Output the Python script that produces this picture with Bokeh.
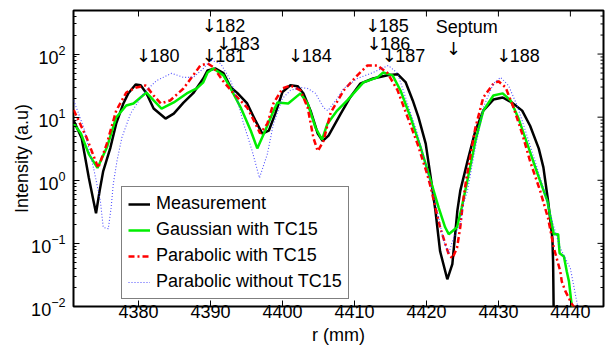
from bokeh.plotting import figure
from bokeh.models import FixedTicker, Legend, LegendItem, ColumnDataSource, Range1d, Title
from bokeh.embed import file_html
from bokeh.resources import INLINE
from bokeh.core.properties import value

# ---------------- data ----------------
meas_r = [4371.0, 4372.1, 4373.1, 4373.75, 4374.1, 4374.6, 4375.1, 4376.1, 4376.9, 4377.9,
          4378.6, 4379.6, 4380.3, 4381.1, 4382.1, 4383.75, 4384.9, 4386.25, 4387.6, 4389.0,
          4389.6, 4390.7, 4391.8, 4392.8, 4393.75, 4395.1, 4396.25, 4397.2, 4398.1, 4399.0,
          4400.0, 4401.1, 4402.1, 4402.9, 4403.9, 4404.9, 4405.6, 4406.4, 4408.1, 4409.4,
          4410.8, 4412.6, 4414.6, 4416.0, 4417.1, 4418.1, 4418.9, 4419.9, 4420.6, 4421.25,
          4421.9, 4422.9, 4423.6, 4424.3, 4424.7, 4425.7, 4426.8, 4427.9, 4429.3, 4430.6,
          4431.9, 4433.3, 4434.4, 4435.6, 4436.25, 4436.9, 4437.5, 4437.6, 4437.7]
meas_v = [8.8, 4.7, 1.1, 0.47, 0.3, 0.68, 1.4, 3.3, 7.9, 16.5,
          24, 33, 32, 24, 13.7, 9.5, 11.4, 17, 24, 41,
          55, 59, 50, 30, 24, 16.5, 8.8, 5.5, 6.1, 11.4,
          25, 32, 31, 24, 12.7, 5.5, 4.2, 5.1, 11.4, 20.5,
          34, 41, 46, 48, 36, 18.4, 9.9, 3.8, 1.1, 0.33,
          0.075, 0.027, 0.047, 0.33, 0.68, 2.0, 6.1, 12.7, 19, 20.5,
          17, 12.7, 7.3, 3.2, 1.6, 0.47, 0.12, 0.05, 0.005]

gauss_r = [4371.0, 4372.0, 4373.1, 4374.3, 4375.6, 4376.9, 4378.3, 4379.3, 4381.1, 4382.1,
           4383.2, 4384.9, 4386.7, 4388.1, 4389.0, 4389.6, 4390.4, 4391.8, 4392.8, 4394.2,
           4395.6, 4396.5, 4397.6, 4398.6, 4399.3, 4400.8, 4402.5, 4403.5, 4404.6, 4405.5,
           4406.25, 4407.6, 4409.0, 4411.25, 4413.2, 4414.0, 4415.3, 4416.4, 4417.8, 4419.2,
           4420.6, 4421.7, 4422.6, 4423.1, 4424.25, 4424.9, 4425.6, 4426.8, 4427.9, 4429.3,
           4430.6, 4431.7, 4432.8, 4434.0, 4435.4, 4436.8, 4437.7, 4438.3, 4438.5, 4439.1,
           4439.5, 4439.8, 4440.2, 4440.3]
gauss_v = [7.9, 5.5, 2.6, 1.57, 3.3, 9.9, 15.3, 16.5, 24.6, 18.4,
           13.7, 17.1, 23.8, 28.5, 35.6, 51, 59, 46, 28.5, 14.2,
           6.1, 3.2, 6.1, 11.4, 17.1, 16.5, 23.8, 16.5, 6.8, 4.4,
           7.9, 12.7, 18.4, 35.6, 42.7, 51, 46, 26.5, 9.9, 3.3,
           0.98, 0.37, 0.18, 0.14, 0.18, 0.37, 0.88, 4.2, 12.7, 22,
           23.8, 18.4, 9.5, 3.8, 1.3, 0.47, 0.14, 0.14, 0.07, 0.062,
           0.036, 0.025, 0.01, 0.006]

parab_r = [4371.0, 4372.8, 4374.4, 4375.6, 4376.9, 4378.3, 4379.7, 4381.0, 4382.1, 4383.1,
           4384.4, 4386.25, 4387.6, 4388.6, 4389.6, 4390.4, 4391.7, 4393.2, 4395.1, 4396.25,
           4396.9, 4397.9, 4398.75, 4400.0, 4401.1, 4402.5, 4403.5, 4404.3, 4404.9, 4405.7,
           4406.7, 4408.5, 4410.4, 4411.8, 4413.2, 4414.6, 4416.0, 4417.4, 4418.75, 4420.1,
           4420.6, 4421.25, 4421.9, 4422.6, 4423.1, 4423.6, 4424.25, 4424.7, 4425.1, 4425.5,
           4426.8, 4427.9, 4429.3, 4430.0, 4431.0, 4432.1, 4433.3, 4434.4, 4435.8, 4436.9,
           4437.7, 4438.6, 4438.8, 4439.3, 4440.2, 4440.7]
parab_v = [13, 4.7, 1.57, 3.8, 12.7, 24.6, 29.6, 31.8, 22, 16.5,
           18.4, 28.5, 46, 66, 71, 62, 38, 23.8, 14.2, 7.9,
           5.5, 7.9, 16.5, 28.5, 31.8, 26.5, 14.2, 4.7, 2.9, 4.2,
           11.8, 26.5, 46, 66, 66, 50, 26.5, 9.9, 3.8, 1.26,
           0.77, 0.37, 0.18, 0.1, 0.067, 0.058, 0.085, 0.18, 0.47, 0.98,
           6.8, 20.5, 34, 37, 29.6, 14.2, 5.5, 2.0, 0.68, 0.25,
           0.085, 0.036, 0.025, 0.0175, 0.011, 0.009]

noTC_r = [4371.0, 4372.4, 4373.75, 4374.7, 4375.1, 4375.8, 4376.2, 4376.5, 4377.0, 4377.7,
          4378.9, 4380.7, 4382.5, 4384.6, 4386.25, 4387.6, 4389.0, 4390.0, 4391.4, 4392.8,
          4393.75, 4394.6, 4395.8, 4396.8, 4397.9, 4398.75, 4400.0, 4401.1, 4402.5, 4403.5,
          4404.6, 4405.7, 4406.3, 4407.4, 4408.5, 4410.4, 4412.6, 4414.7, 4416.0, 4417.1,
          4418.75, 4420.1, 4421.5, 4422.4, 4423.1, 4423.75, 4424.7, 4425.1, 4425.7, 4426.8,
          4427.9, 4429.3, 4430.3, 4431.4, 4432.6, 4433.75, 4435.1, 4436.5, 4437.6, 4438.6,
          4440.0, 4440.7, 4441.1]
noTC_v = [18.4, 6.8, 1.57, 0.47, 0.18, 0.17, 0.37, 0.88, 2.0, 4.8,
          11.4, 23.8, 38, 49.5, 42.7, 42.7, 59, 80, 71, 38,
          18.4, 7.9, 2.9, 1.09, 2.6, 7.9, 19.8, 26.5, 29.6, 28.5,
          23.8, 14.2, 12.7, 18.4, 28.5, 41, 51, 66, 49.5, 20.5,
          5.5, 1.41, 0.33, 0.108, 0.07, 0.12, 0.2, 0.4, 0.68, 3.3,
          14.2, 34, 42.7, 31.8, 15.3, 6.1, 2.0, 0.6, 0.2, 0.084,
          0.04, 0.0155, 0.009]

series_names = ["Measurement", "Gaussian with TC15", "Parabolic with TC15", "Parabolic without TC15"]

# marker annotations: a down-arrow followed by the coil number
ann_num = ["180", "182", "183", "181", "184", "185", "186", "187", "188"]
ann_r = [4379.85, 4389.0, 4391.0, 4389.0, 4401.0, 4411.7, 4411.9, 4414.0, 4429.9]
ann_v = [95, 288, 149, 95, 95, 288, 149, 95, 95]
septum_label = ["Septum"]
septum_r = [4425.6]
septum_v = [267]
septum_arrow_r = [4423.75]
septum_arrow_v = [124]

x_ticks = [4380, 4390, 4400, 4410, 4420, 4430, 4440]
y_ticks = [0.01, 0.1, 1, 10, 100]
y_minor = [m * 10.0 ** e for e in range(-2, 3) for m in range(2, 10) if m * 10.0 ** e < 490]

X0, X1 = 4370.97, 4444.6
Y0, Y1 = 0.01, 490
FONT = "Liberation Sans"
AFONT = "DejaVu Sans"
FS = "18px"

p = figure(width=605, height=348, x_range=Range1d(X0, X1),
           y_range=Range1d(Y0, Y1), y_axis_type="log",
           output_backend="svg", toolbar_location=None,
           min_border_left=73, min_border_right=2, min_border_top=10, min_border_bottom=42)
p.background_fill_color = "white"
p.border_fill_color = "white"
p.grid.visible = False
p.outline_line_color = "black"
p.outline_line_width = 2

r1 = p.line(meas_r, meas_v, line_color="black", line_width=2.5)
r2 = p.line(gauss_r, gauss_v, line_color="#00ee00", line_width=2.5)
r3 = p.line(parab_r, parab_v, line_color="red", line_width=2.5, line_dash="6 3 2 3")
r4 = p.line(noTC_r, noTC_v, line_color="#3030ff", line_width=1.1, line_dash="1 2", line_alpha=0.85)

# axes
xa = p.xaxis[0]
xa.ticker = FixedTicker(ticks=x_ticks)
ya = p.yaxis[0]
ya.ticker = FixedTicker(ticks=y_ticks, minor_ticks=y_minor)
ya.axis_label = "Intensity (a.u)"
for ax in (xa, ya):
    ax.major_label_text_font = FONT
    ax.major_label_text_font_size = FS
    ax.major_label_text_color = "black"
    ax.axis_label_text_font = FONT
    ax.axis_label_text_font_size = FS
    ax.axis_label_text_font_style = "normal"
    ax.axis_label_text_color = "black"
    ax.major_tick_in = 6
    ax.major_tick_out = 0
    ax.minor_tick_in = 3
    ax.minor_tick_out = 0
    ax.axis_line_color = None
    ax.major_tick_line_color = "black"
    ax.minor_tick_line_color = "black"
xa.minor_tick_line_color = None
xa.major_label_standoff = -2
ya.major_label_standoff = 8
ya.axis_label_standoff = -4

# x axis title, stacked below the tick labels
p.add_layout(Title(text="r (mm)", align="center", text_font=FONT, text_font_size=FS,
                   text_font_style="normal", text_color="black", standoff=5,
                   text_line_height=0.8), "below")

# mirrored ticks on the top and right edges of the box
top_len = 10 ** (6 / 63.0)
p.segment(x0=x_ticks, y0=[Y1] * len(x_ticks), x1=x_ticks, y1=[Y1 / top_len] * len(x_ticks),
          line_color="black", line_width=1)
p.segment(x0=[X1] * len(y_ticks), y0=y_ticks, x1=[X1 - 6 / 7.2] * len(y_ticks), y1=y_ticks,
          line_color="black", line_width=1)
p.segment(x0=[X1] * len(y_minor), y0=y_minor, x1=[X1 - 3 / 7.2] * len(y_minor), y1=y_minor,
          line_color="black", line_width=1)

# annotations
src = ColumnDataSource(dict(x=ann_r, y=ann_v, t=ann_num, a=["\u2193"] * len(ann_num)))
p.text(x="x", y="y", text="a", source=src, text_font=value(AFONT), text_font_size=value(FS),
       text_align="center", text_baseline="middle", text_color="black", x_offset=6)
p.text(x="x", y="y", text="t", source=src, text_font=value(FONT), text_font_size=value(FS),
       text_align="left", text_baseline="middle", text_color="black", x_offset=12)
p.text(x=septum_r, y=septum_v, text=septum_label, text_font=value(FONT), text_font_size=value(FS),
       text_align="center", text_baseline="middle", text_color="black")
p.text(x=septum_arrow_r, y=septum_arrow_v, text=["\u2193"], text_font=value(AFONT),
       text_font_size=value(FS), text_align="center", text_baseline="middle", text_color="black")

legend = Legend(items=[LegendItem(label=n, renderers=[r]) for n, r in
                       zip(series_names, [r1, r2, r3, r4])],
                location=(48, 7))
legend.label_text_font = FONT
legend.label_text_font_size = FS
legend.label_text_color = "black"
legend.label_height = 20
legend.glyph_height = 20
legend.glyph_width = 22
legend.label_standoff = 6
legend.spacing = 5
legend.padding = 6
legend.margin = 0
legend.border_line_color = "black"
legend.border_line_width = 1.5
legend.background_fill_alpha = 1
p.add_layout(legend, "center")

open("out.html", "w").write(file_html(p, INLINE))
